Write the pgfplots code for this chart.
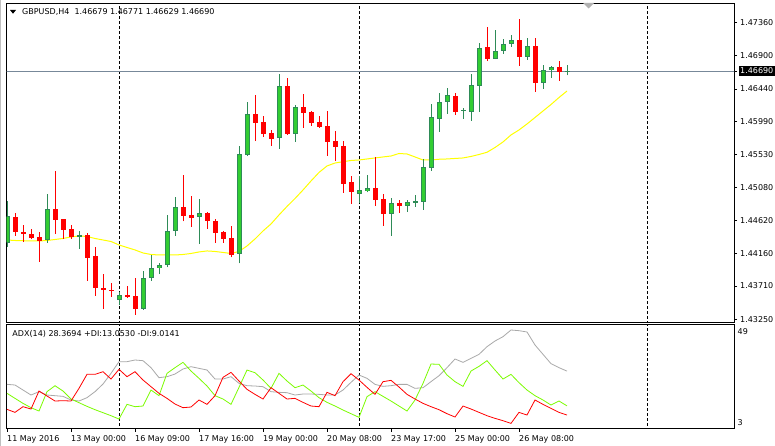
\documentclass[border=0pt]{standalone}
\usepackage{pgfplots}
\pgfplotsset{compat=1.18}
\usepackage{pgfplotstable}
\usepackage{fontspec}
\setmainfont{DejaVu Sans}

\definecolor{bullfill}{HTML}{32CD32}
\definecolor{bullline}{HTML}{2E8B57}
\definecolor{adxgray}{HTML}{A9A9A9}
\definecolor{diplus}{HTML}{7CFC00}
\definecolor{bidline}{HTML}{778899}
\definecolor{mayellow}{HTML}{FFFF00}

\pgfplotstableread{
i o h l c
0 1.44307 1.44889 1.44251 1.44681
5 1.44344 1.44986 1.44311 1.44774
9 1.44394 1.44473 1.44228 1.44418
14 1.43512 1.43632 1.43443 1.43586
17 1.43396 1.43919 1.43378 1.43822
18 1.43817 1.44136 1.43784 1.43960
19 1.43956 1.44025 1.43873 1.44002
20 1.44006 1.44695 1.43970 1.44473
21 1.44469 1.44944 1.44408 1.44801
24 1.44663 1.44912 1.44297 1.44718
29 1.44150 1.45651 1.44025 1.45540
30 1.45526 1.46261 1.45512 1.46095
34 1.45758 1.46649 1.45614 1.46483
36 1.45822 1.46219 1.45711 1.46192
44 1.44990 1.45239 1.44857 1.45041
45 1.45027 1.45249 1.45009 1.45069
48 1.44713 1.44926 1.44408 1.44861
50 1.44815 1.44898 1.44740 1.44875
51 1.44865 1.44972 1.44810 1.44893
52 1.44879 1.45467 1.44764 1.45360
53 1.45350 1.46237 1.45305 1.46053
54 1.46032 1.46386 1.45849 1.46258
55 1.46254 1.46448 1.46095 1.46358
57 1.46140 1.46182 1.46029 1.46150
58 1.46126 1.46649 1.46002 1.46492
59 1.46487 1.47079 1.46126 1.47005
61 1.46861 1.47259 1.46855 1.46964
62 1.46964 1.47134 1.46930 1.47061
63 1.47061 1.47194 1.47027 1.47120
65 1.46889 1.47148 1.46843 1.47033
67 1.46528 1.46774 1.46445 1.46704
68 1.46700 1.46760 1.46594 1.46742
70 1.46679 1.46771 1.46629 1.46690
}\bull

\pgfplotstableread{
i o h l c
1 1.44667 1.44727 1.44408 1.44463
2 1.44459 1.44556 1.44325 1.44436
3 1.44431 1.44501 1.44358 1.44376
4 1.44390 1.44459 1.44047 1.44339
6 1.44774 1.45305 1.44431 1.44630
7 1.44639 1.44645 1.44366 1.44491
8 1.44501 1.44556 1.44362 1.44390
10 1.44418 1.44445 1.43784 1.44103
11 1.44126 1.44251 1.43576 1.43679
12 1.43683 1.43877 1.43396 1.43651
13 1.43655 1.43748 1.43562 1.43646
15 1.43586 1.43707 1.43544 1.43558
16 1.43572 1.43822 1.43313 1.43396
22 1.44806 1.45249 1.44607 1.44685
23 1.44695 1.44958 1.44533 1.44657
25 1.44722 1.44730 1.44505 1.44616
26 1.44612 1.44639 1.44311 1.44449
27 1.44459 1.44466 1.44311 1.44366
28 1.44376 1.44542 1.44108 1.44145
31 1.46095 1.46358 1.45720 1.45974
32 1.45984 1.46067 1.45776 1.45822
33 1.45831 1.45873 1.45651 1.45748
35 1.46483 1.46594 1.45808 1.45822
37 1.46192 1.46372 1.45905 1.46113
38 1.46122 1.46130 1.45932 1.45974
39 1.45984 1.46067 1.45905 1.45919
40 1.45932 1.46136 1.45517 1.45711
41 1.45720 1.45859 1.45447 1.45641
42 1.45651 1.45720 1.45004 1.45129
43 1.45156 1.45235 1.44851 1.45018
46 1.45069 1.45494 1.44819 1.44907
47 1.44917 1.44982 1.44546 1.44713
49 1.44861 1.44903 1.44727 1.44824
56 1.46340 1.46382 1.46085 1.46126
60 1.47023 1.47305 1.46829 1.46857
64 1.47120 1.47411 1.46764 1.46889
66 1.47037 1.47148 1.46404 1.46528
69 1.46742 1.46829 1.46556 1.46681
}\bear

\pgfplotstableread{
i ma
0 1.44348
1 1.44341
2 1.44338
3 1.44334
4 1.44334
5 1.44341
6 1.44355
7 1.44369
8 1.44390
9 1.44404
10 1.44397
11 1.44369
12 1.44348
13 1.44327
14 1.44279
15 1.44244
16 1.44210
17 1.44168
18 1.44147
19 1.44140
20 1.44140
21 1.44140
22 1.44147
23 1.44161
24 1.44182
25 1.44196
26 1.44189
27 1.44175
28 1.44161
29 1.44189
30 1.44265
31 1.44362
32 1.44473
33 1.44570
34 1.44695
35 1.44813
36 1.44923
37 1.45041
38 1.45166
39 1.45284
40 1.45374
41 1.45415
42 1.45433
43 1.45450
44 1.45457
45 1.45471
46 1.45485
47 1.45499
48 1.45512
49 1.45547
50 1.45540
51 1.45499
52 1.45457
53 1.45457
54 1.45467
55 1.45471
56 1.45478
57 1.45485
58 1.45506
59 1.45533
60 1.45564
61 1.45630
62 1.45707
63 1.45804
64 1.45873
65 1.45956
66 1.46046
67 1.46136
68 1.46226
69 1.46323
70 1.46413
}\ma

\pgfplotstableread{
i adx pdi mdi
0 22.54 18.58 11.52
1 22.25 16.37 10.20
2 20.04 14.17 12.70
3 17.84 12.26 11.67
4 19.31 10.79 19.60
5 17.84 19.31 17.40
6 17.55 21.95 15.20
7 17.25 19.60 15.34
8 15.64 16.08 15.20
9 15.20 14.46 20.78
10 16.67 12.85 26.95
11 19.31 11.38 26.95
12 22.69 10.06 28.12
13 27.39 8.73 24.89
14 32.53 7.26 29.15
15 32.53 13.73 25.92
16 33.27 12.70 28.12
17 32.97 12.99 24.45
18 29.89 20.04 21.51
19 25.48 17.55 18.58
20 25.92 27.39 16.37
21 27.10 29.89 13.87
22 29.30 32.24 12.26
23 30.33 28.42 12.55
24 29.59 25.19 15.64
25 28.86 21.81 13.73
26 24.89 17.55 17.55
27 24.89 16.08 25.63
28 25.92 13.73 27.83
29 22.98 21.22 24.01
30 21.95 28.86 20.34
31 21.81 27.68 18.13
32 21.51 24.45 16.08
33 19.31 20.78 21.07
34 19.02 27.39 18.58
35 18.87 24.01 16.08
36 17.84 21.07 16.37
37 18.28 22.25 14.61
38 18.28 19.60 12.99
39 18.13 16.67 12.70
40 17.84 14.61 19.02
41 17.84 12.99 17.55
42 20.04 11.23 23.72
43 23.42 9.61 27.24
44 26.65 8.00 24.45
45 25.19 17.11 21.22
46 22.54 19.31 18.13
47 21.66 17.25 23.72
48 21.95 15.20 24.30
49 22.54 12.99 21.37
50 22.54 10.79 18.13
51 20.78 15.64 16.08
52 21.07 22.98 14.17
53 23.72 31.50 12.70
54 26.36 31.36 11.38
55 29.89 26.65 9.61
56 33.71 23.72 8.15
57 32.24 21.66 12.99
58 34.00 28.42 11.67
59 35.76 30.47 10.20
60 39.14 32.97 8.73
61 41.64 28.86 7.56
62 43.55 24.89 6.53
63 46.49 26.95 5.35
64 46.19 23.28 10.20
65 45.61 20.04 9.03
66 39.88 17.55 15.64
67 35.76 15.64 13.73
68 31.65 13.43 11.96
69 29.89 15.20 10.20
70 28.37 13.05 9.01
}\adx

\pgfplotsset{
  candle/.style={draw=none, mark=none, forget plot,
    error bars/.cd, y dir=both, y explicit, error mark=none},
}

\begin{document}
\begin{tikzpicture}[font=\fontsize{8}{9.6}\selectfont]
\useasboundingbox (0pt,0pt) rectangle (775pt,446pt);
\fill[white] (0pt,0pt) rectangle (775pt,446pt);
\draw[gray!50, line width=1pt] (0.5pt,0pt) -- (0.5pt,446pt);

\begin{axis}[
  at={(6.5pt,123.7pt)}, anchor=south west, scale only axis,
  width=727.5pt, height=319pt,
  xmin=-0.0625, xmax=90.875, ymin=1.43207, ymax=1.47629,
  xtick=\empty,
  ytick={1.4325,1.4371,1.4416,1.4462,1.4508,1.4553,1.4599,1.4644,1.4690,1.4736},
  yticklabels={1.43250,1.43710,1.44160,1.44620,1.45080,1.45530,1.45990,1.46440,1.46900,1.47360},
  ytick pos=right, yticklabel pos=right, tick align=outside, major tick length=3pt,
  tick style={black, line width=0.8pt},
  tick label style={font=\fontsize{8}{9.6}\selectfont},
  yticklabel style={anchor=west, inner sep=0pt, xshift=3pt},
  extra y ticks={1.4669}, extra y tick labels={1.46690},
  extra y tick style={yticklabel style={fill=black, text=white, inner xsep=1.5pt, inner ysep=2pt, xshift=-1.5pt}},
  axis line style={line width=1pt},
]
\addplot[black, line width=1pt, dash pattern=on 3pt off 2pt] coordinates {(14,1.40) (14,1.50)};
\addplot[black, line width=1pt, dash pattern=on 3pt off 2pt] coordinates {(44,1.40) (44,1.50)};
\addplot[black, line width=1pt, dash pattern=on 3pt off 2pt] coordinates {(80,1.40) (80,1.50)};
\addplot[bidline, line width=1pt] coordinates {(-1,1.4669) (92,1.4669)};
\addplot[mayellow, line width=1pt] table[x=i, y=ma] {\ma};
% wicks
\addplot[candle, error bar style={line width=1pt, draw=bullline}]
  table[x=i, y=l, y error plus expr={\thisrow{h}-\thisrow{l}}, y error minus expr=0] {\bull};
\addplot[candle, error bar style={line width=1pt, draw=red}]
  table[x=i, y=l, y error plus expr={\thisrow{h}-\thisrow{l}}, y error minus expr=0] {\bear};
% bodies
\addplot[candle, error bar style={line width=5pt, draw=bullline}]
  table[x=i, y expr={(\thisrow{o}+\thisrow{c})/2}, y error expr={max(abs(\thisrow{c}-\thisrow{o})/2,0.00007)}] {\bull};
\addplot[candle, error bar style={line width=3pt, draw=bullfill}]
  table[x=i, y expr={(\thisrow{o}+\thisrow{c})/2}, y error expr={max(abs(\thisrow{c}-\thisrow{o})/2-0.00014,0)}] {\bull};
\addplot[candle, error bar style={line width=5pt, draw=red}]
  table[x=i, y expr={(\thisrow{o}+\thisrow{c})/2}, y error expr={max(abs(\thisrow{c}-\thisrow{o})/2,0.00007)}] {\bear};
\end{axis}

\begin{axis}[
  at={(6.5pt,17.3pt)}, anchor=south west, scale only axis,
  width=727.5pt, height=104.4pt,
  xmin=-0.0625, xmax=90.875, ymin=3, ymax=49,
  ytick=\empty,
  xtick={0,8,16,24,32,40,48,56,64},
  xticklabels={11 May 2016,13 May 00:00,16 May 09:00,17 May 16:00,19 May 00:00,20 May 08:00,23 May 17:00,25 May 00:00,26 May 08:00},
  xtick pos=bottom, tick align=outside, major tick length=3pt,
  tick style={black, line width=0.8pt},
  tick label style={font=\fontsize{8}{9.6}\selectfont},
  xticklabel style={anchor=north west, inner sep=0pt, yshift=-3.3pt},
  axis line style={line width=1pt},
]
\addplot[black, line width=1pt, dash pattern=on 3pt off 2pt] coordinates {(14,0) (14,60)};
\addplot[black, line width=1pt, dash pattern=on 3pt off 2pt] coordinates {(44,0) (44,60)};
\addplot[black, line width=1pt, dash pattern=on 3pt off 2pt] coordinates {(80,0) (80,60)};
\addplot[adxgray, line width=0.8pt] table[x=i, y=adx] {\adx};
\addplot[diplus, line width=0.8pt] table[x=i, y=pdi] {\adx};
\addplot[red, line width=0.8pt] table[x=i, y=mdi] {\adx};
\end{axis}

% title and labels
\fill[black] (10pt,436pt) -- (16pt,436pt) -- (13pt,432.3pt) -- cycle;
\node[anchor=base west, inner sep=0pt] at (22pt,431.3pt) {GBPUSD,H4\ \ 1.46679 1.46771 1.46629 1.46690};
\node[anchor=base west, inner sep=0pt] at (12.3pt,109.3pt) {ADX(14) 28.3694 +DI:13.0530 -DI:9.0141};
\node[anchor=west, inner sep=0pt] at (737.5pt,114.3pt) {49};
\node[anchor=west, inner sep=0pt] at (737.5pt,23.3pt) {3};
\fill[gray!60] (583pt,443pt) -- (594pt,443pt) -- (588.5pt,437.5pt) -- cycle;
\end{tikzpicture}
\end{document}
